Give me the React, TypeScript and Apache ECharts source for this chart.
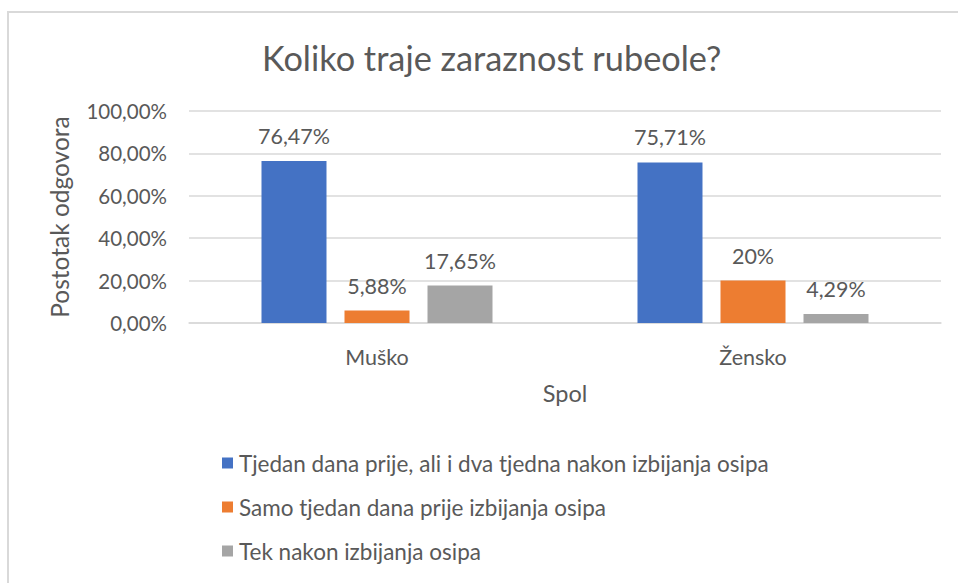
import React, { useEffect, useRef } from "react";
import * as echarts from "echarts";

const categories = ["Muško", "Žensko"];
const seriesNames = [
  "Tjedan dana prije, ali i dva tjedna nakon izbijanja osipa",
  "Samo tjedan dana prije izbijanja osipa",
  "Tek nakon izbijanja osipa",
];
const seriesA = [76.47, 75.71];
const seriesB = [5.88, 20];
const seriesC = [17.65, 4.29];
const colors = ["#4472C4", "#ED7D31", "#A5A5A5"];
const yTicks = [0, 20, 40, 60, 80, 100];

const FONT = "Lato";
const TEXT = "#595959";

function fmtLabel(v: number): string {
  if (Number.isInteger(v)) return `${v}%`;
  return v.toFixed(2).replace(".", ",") + "%";
}

export default function App() {
  const ref = useRef<HTMLDivElement>(null);
  useEffect(() => {
    if (!ref.current) return;
    const chart = echarts.init(ref.current, undefined, { renderer: "svg" });
    const data = [seriesA, seriesB, seriesC];
    chart.setOption({
      animation: false,
      backgroundColor: "#ffffff",
      textStyle: { fontFamily: FONT, color: TEXT },
      title: {
        text: "Koliko traje zaraznost rubeole?",
        left: 257,
        top: 35,
        textStyle: { fontFamily: FONT, fontSize: 34.3, fontWeight: "normal", color: TEXT },
      },
      graphic: [
        {
          type: "rect",
          shape: { x: 8, y: 12, width: 980, height: 600 },
          style: { fill: "none", stroke: "#d9d9d9", lineWidth: 2 },
          silent: true,
        },
      ],
      legend: {
        orient: "vertical",
        left: 217,
        top: 446,
        itemWidth: 11,
        itemHeight: 11,
        itemGap: 20,
        icon: "rect",
        textStyle: { fontFamily: FONT, fontSize: 22.5, color: TEXT, lineHeight: 24, padding: [0, 0, 0, 1] },
        data: seriesNames,
      },
      grid: { left: 189, right: 17, top: 111, bottom: 260, containLabel: false },
      xAxis: {
        type: "category",
        data: categories,
        name: "Spol",
        nameLocation: "middle",
        nameGap: 58,
        nameTextStyle: { fontFamily: FONT, fontSize: 23.5, color: TEXT },
        axisLine: { show: true, lineStyle: { color: "#d9d9d9", width: 1.5 } },
        axisTick: { show: false },
        axisLabel: { fontFamily: FONT, fontSize: 21.5, color: TEXT, margin: 23 },
      },
      yAxis: {
        type: "value",
        min: yTicks[0],
        max: yTicks[yTicks.length - 1],
        interval: 20,
        name: "Postotak odgovora",
        nameLocation: "middle",
        nameGap: 117,
        nameRotate: 90,
        nameTextStyle: { fontFamily: FONT, fontSize: 24.5, color: TEXT },
        axisLine: { show: false },
        axisTick: { show: false },
        splitLine: { lineStyle: { color: "#d9d9d9", width: 1.5 } },
        axisLabel: {
          fontFamily: FONT,
          fontSize: 20.5,
          color: TEXT,
          margin: 22,
          formatter: (v: number) => v.toFixed(2).replace(".", ",") + "%",
        },
      },
      series: seriesNames.map((name, i) => ({
        name,
        type: "bar",
        data: data[i],
        barWidth: 65,
        barGap: "27.7%",
        itemStyle: { color: colors[i] },
        label: {
          show: true,
          position: "top",
          distance: 14,
          fontFamily: FONT,
          fontSize: 21.5,
          color: TEXT,
          formatter: (p: any) => fmtLabel(p.value as number),
        },
      })),
    });
    return () => chart.dispose();
  }, []);
  return (
    <div
      ref={ref}
      style={{ position: "fixed", left: 0, top: 0, width: 958, height: 583 }}
    />
  );
}
